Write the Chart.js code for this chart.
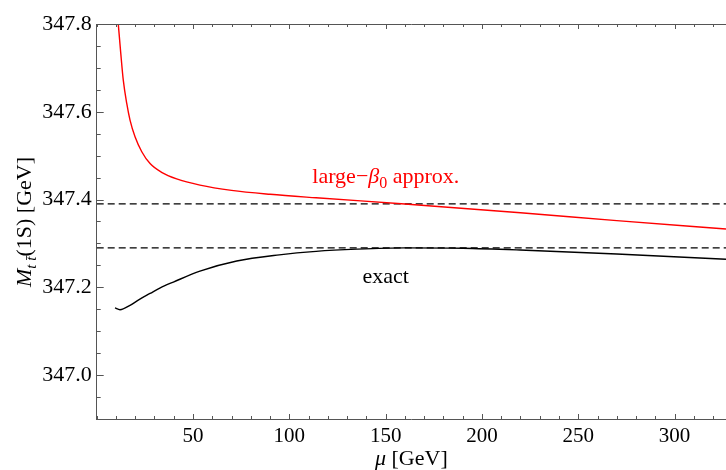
<!DOCTYPE html>
<html>
<head>
<meta charset="utf-8">
<script src="https://cdn.jsdelivr.net/npm/chart.js@4.4.1/dist/chart.umd.min.js"></script>
<style>
  html, body { margin: 0; padding: 0; background: #fff; }
</style>
</head>
<body>
<canvas id="massChart" width="726" height="470"></canvas>
<script>
// values
const muApprox   = [11.2, 12.5, 13.8, 15.6, 17.3, 19.9, 23.4, 27.7, 33.7, 41.5, 53.6, 70, 90, 113.9, 160, 220, 270, 326.7];
const massApprox = [347.80, 347.733, 347.672, 347.619, 347.581, 347.543, 347.509, 347.482, 347.462, 347.447, 347.433, 347.421, 347.412, 347.404, 347.39, 347.37, 347.352, 347.333];

const muExact   = [9.5, 12.1, 17.3, 22, 27.7, 33, 39.8, 53.6, 72.7, 94.8, 113.9, 135, 160, 190, 219.8, 270, 326.7];
const massExact = [347.153, 347.149, 347.159, 347.172, 347.186, 347.199, 347.212, 347.237, 347.26, 347.274, 347.282, 347.287, 347.29, 347.289, 347.285, 347.276, 347.264];

const refLevels = [347.39, 347.29];   // dashed lines

const xRange = [0, 326.7];
const yRange = [346.9, 347.8];
const xMajorTicks = [50, 100, 150, 200, 250, 300];
const yMajorTicks = [347.0, 347.2, 347.4, 347.6, 347.8];
const xMinorStep = 10;
const yMinorStep = 0.05;

const FONT = "Liberation Serif";
Chart.defaults.font.family = FONT;

function pairs(xs, ys) {
  return xs.map((x, i) => ({ x, y: ys[i] }));
}

function isMajor(list, v) {
  return list.some(m => Math.abs(m - v) < 1e-6);
}

function stepTicks(min, max, step) {
  const out = [];
  const start = Math.ceil(min / step - 1e-6);
  for (let k = start; k * step <= max + 1e-6; k++) out.push({ value: +(k * step).toFixed(4) });
  return out;
}

// inward ticks, top frame line and the text labels
const decorations = {
  id: "decorations",
  afterDraw(chart) {
    const { ctx, chartArea: a, scales: { x, y } } = chart;
    ctx.save();
    ctx.strokeStyle = "#555";
    ctx.lineWidth = 1;

    // top frame line
    ctx.beginPath();
    ctx.moveTo(a.left, a.top + 0.5);
    ctx.lineTo(a.right, a.top + 0.5);
    ctx.stroke();

    ctx.beginPath();
    for (const t of x.ticks) {
      const px = Math.round(x.getPixelForValue(t.value)) + 0.5;
      const len = isMajor(xMajorTicks, t.value) ? 5 : 3;
      ctx.moveTo(px, a.bottom); ctx.lineTo(px, a.bottom - len);
      ctx.moveTo(px, a.top);    ctx.lineTo(px, a.top + len);
    }
    for (const t of y.ticks) {
      const py = Math.round(y.getPixelForValue(t.value)) + 0.5;
      const len = isMajor(yMajorTicks, t.value) ? 7 : 4;
      ctx.moveTo(a.left, py); ctx.lineTo(a.left + len, py);
    }
    ctx.stroke();

    // pieces: [text, italic, sizeFactor, baselineShift]
    function drawRich(pieces, size, cx, by, color) {
      const fontOf = p => `${p[1] ? "italic " : ""}${Math.round(size * (p[2] || 1))}px "${FONT}"`;
      let w = 0;
      for (const p of pieces) { ctx.font = fontOf(p); w += ctx.measureText(p[0]).width; }
      let cur = cx - w / 2;
      ctx.fillStyle = color;
      ctx.textAlign = "left";
      ctx.textBaseline = "alphabetic";
      for (const p of pieces) {
        ctx.font = fontOf(p);
        ctx.fillText(p[0], cur, by + (p[3] || 0));
        cur += ctx.measureText(p[0]).width;
      }
    }

    drawRich([["large\u2212", false], ["\u03b2", true], ["0", false, 0.72, 5], [" approx.", false]],
      22, x.getPixelForValue(150.1), y.getPixelForValue(347.437), "#ff0000");
    drawRich([["exact", false]], 22, x.getPixelForValue(150), y.getPixelForValue(347.209), "#000");

    // x axis title
    drawRich([["\u03bc", true], [" [GeV]", false]], 22, (a.left + a.right) / 2, 465, "#000");

    // y axis title, rotated
    ctx.translate(31, 222);
    ctx.rotate(-Math.PI / 2);
    drawRich([["M", true], ["t t\u0304", true, 0.68, 5], ["(1S) [GeV]", false]], 22, 0, 0, "#000");
    ctx.restore();
  }
};

new Chart(document.getElementById("massChart"), {
  type: "scatter",
  data: {
    datasets: [
      {
        data: pairs(muApprox, massApprox),
        showLine: true, borderColor: "#ff0000", borderWidth: 1.4,
        pointRadius: 0, cubicInterpolationMode: "monotone"
      },
      {
        data: pairs(muExact, massExact),
        showLine: true, borderColor: "#000", borderWidth: 1.4,
        pointRadius: 0, cubicInterpolationMode: "monotone"
      },
      ...refLevels.map(v => ({
        data: pairs(xRange, [v, v]),
        showLine: true, borderColor: "#000", borderWidth: 1.2,
        borderDash: [7, 4], pointRadius: 0
      }))
    ]
  },
  options: {
    responsive: false,
    animation: false,
    devicePixelRatio: 1,
    layout: { padding: { top: 24, right: 0, left: 0, bottom: 0 } },
    plugins: { legend: { display: false }, tooltip: { enabled: false } },
    scales: {
      x: {
        type: "linear", min: xRange[0], max: xRange[1],
        grid: { display: false, drawTicks: false },
        border: { display: true, color: "#555", width: 1 },
        afterBuildTicks: s => { s.ticks = stepTicks(xRange[0], xRange[1], xMinorStep); },
        afterFit: s => { s.height = 51; },
        ticks: {
          autoSkip: false, maxRotation: 0, padding: 5, color: "#000",
          font: { family: FONT, size: 21 },
          callback: v => isMajor(xMajorTicks, v) ? String(v) : ""
        }
      },
      y: {
        type: "linear", min: yRange[0], max: yRange[1],
        grid: { display: false, drawTicks: false },
        border: { display: true, color: "#555", width: 1 },
        afterBuildTicks: s => { s.ticks = stepTicks(yRange[0], yRange[1], yMinorStep); },
        afterFit: s => { s.width = 96.7; },
        ticks: {
          autoSkip: false, padding: 5, color: "#000",
          font: { family: FONT, size: 22 },
          callback: v => isMajor(yMajorTicks, v) ? v.toFixed(1) : ""
        }
      }
    }
  },
  plugins: [decorations]
});
</script>
</body>
</html>
